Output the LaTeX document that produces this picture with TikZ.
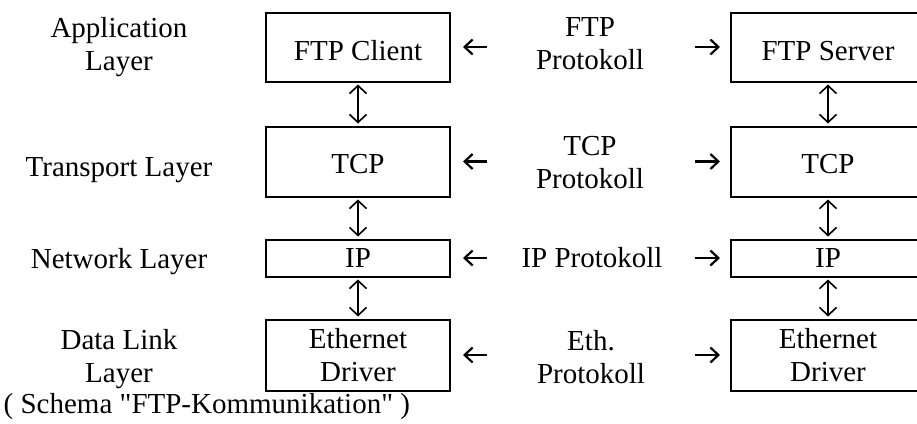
\documentclass[tikz,border=0pt]{standalone}
\usepackage{fontspec}
\setmainfont{Liberation Serif}[Ligatures=TeXOff]
\usetikzlibrary{arrows.meta}
\tikzset{
  txt/.style={font=\fontsize{29}{33.5}\selectfont, inner sep=0pt, align=center},
  layerbox/.style={txt, draw, line width=2pt, minimum width=184pt},
  peerbox/.style={layerbox, minimum width=194pt},
  stackarrow/.style={line width=1.6pt,
    {Straight Barb[length=8pt,width=17pt]}-{Straight Barb[length=8pt,width=17pt]},
    shorten >=2pt, shorten <=2pt},
  peerarrow/.style={line width=2.2pt, -{Straight Barb[length=8pt,width=15pt]}},
}
\begin{document}
\begin{tikzpicture}[x=1pt,y=-1pt]
  \fill[white] (0,0) rectangle (917,423);
  \clip (0,0) rectangle (917,423);
  \useasboundingbox (0,0) rectangle (917,423);

  % layer names
  \node[txt, anchor=north] (lapp) at (119,17)  {Application\\Layer};
  \node[txt, anchor=north] (ltra) at (119,157) {Transport Layer};
  \node[txt, anchor=north] (lnet) at (119,248) {Network Layer};
  \node[txt, anchor=north] (llnk) at (119,329) {Data Link\\Layer};

  % client stack
  \node[layerbox, minimum height=69pt, text height=26pt, text depth=0pt] (c1) at (358,47)    {FTP Client};
  \node[layerbox, minimum height=70pt, text height=23pt, text depth=0pt] (c2) at (358,161.5) {TCP};
  \node[layerbox, minimum height=37pt] (c3) at (358,258)   {IP};
  \node[layerbox, minimum height=71pt] (c4) at (358,355)   {Ethernet\\Driver};

  % server stack
  \node[peerbox, minimum height=69pt, text height=26pt, text depth=0pt] (s1) at (828,47)    {FTP Server};
  \node[peerbox, minimum height=70pt, text height=23pt, text depth=0pt] (s2) at (828,161.5) {TCP};
  \node[peerbox, minimum height=37pt] (s3) at (828,258)   {IP};
  \node[peerbox, minimum height=71pt] (s4) at (828,355)   {Ethernet\\Driver};

  % protocol names
  \node[txt, anchor=north] (p1) at (590,17)  {FTP\\Protokoll};
  \node[txt, anchor=north] (p2) at (590,136) {TCP\\Protokoll};
  \node[txt, anchor=north] (p3) at (592,247) {IP Protokoll};
  \node[txt, anchor=north] (p4) at (591,330) {Eth.\\Protokoll};

  % vertical links inside each stack
  \foreach \a/\b in {c1/c2, c2/c3, c3/c4, s1/s2, s2/s3, s3/s4}
    \draw[stackarrow] (\a.south) -- (\b.north);

  % protocol arrows towards both peers
  \foreach \i in {1,2,3,4}{
    \coordinate (ltip\i)  at ([xshift=12pt]c\i.east);
    \coordinate (ltail\i) at ([xshift=36pt]c\i.east);
    \coordinate (rtip\i)  at ([xshift=-10pt]s\i.west);
    \coordinate (rtail\i) at ([xshift=-35pt]s\i.west);
    \draw[peerarrow] (ltail\i) -- (ltip\i);
    \draw[peerarrow] (rtail\i) -- (rtip\i);
  }

  % caption
  \node[txt, anchor=north west] (cap) at (3.5,393) {( Schema "FTP-Kommunikation" )};
\end{tikzpicture}
\end{document}
